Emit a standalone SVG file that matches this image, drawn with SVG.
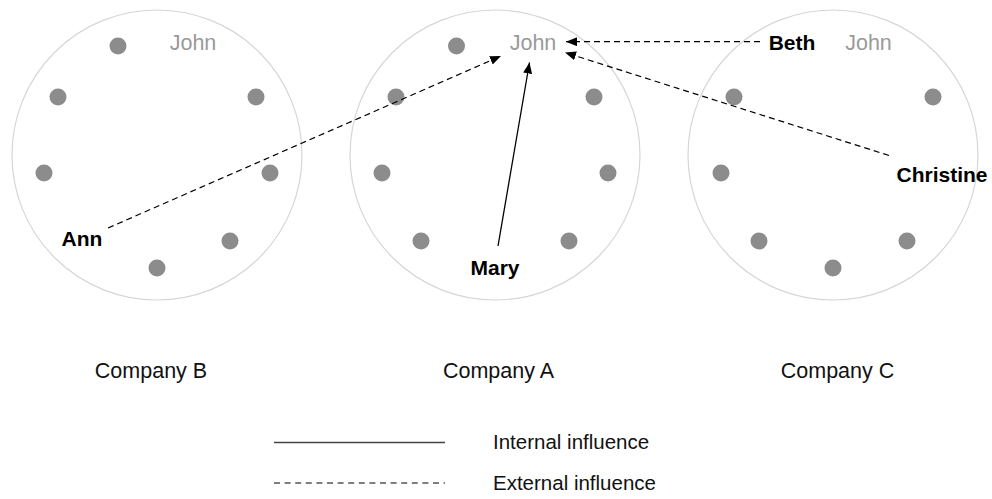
<svg xmlns="http://www.w3.org/2000/svg" width="992" height="499" viewBox="0 0 992 499">
<style>
.co{fill:none;stroke:#d6d6d6;stroke-width:1.2}
.dot{fill:#8c8c8c}
.john{font-family:"Liberation Sans",Arial,sans-serif;font-size:21.5px;fill:#9a9a9a;text-anchor:middle}
.name{font-family:"Liberation Sans",Arial,sans-serif;font-size:21px;font-weight:bold;fill:#000;text-anchor:middle}
.lbl{font-family:"Liberation Sans",Arial,sans-serif;font-size:21.5px;fill:#111;text-anchor:middle}
.leg{font-family:"Liberation Sans",Arial,sans-serif;font-size:20.5px;fill:#111}
.ext{fill:none;stroke:#000;stroke-width:1.2;stroke-dasharray:6,4}
.int{fill:none;stroke:#000;stroke-width:1.3}
</style>
<defs>
<marker id="ah" markerUnits="userSpaceOnUse" markerWidth="12" markerHeight="10" refX="11" refY="4.5" orient="auto">
<path d="M0,0 L11,4.5 L0,9 z" fill="#000"/>
</marker>
</defs>
<rect width="992" height="499" fill="#fff"/>
<g id="companyB">
<circle class="co" cx="157" cy="155" r="145"/>
<circle class="dot" cx="118" cy="46" r="8.5"/>
<circle class="dot" cx="58" cy="97" r="8.5"/>
<circle class="dot" cx="256" cy="97" r="8.5"/>
<circle class="dot" cx="44" cy="173" r="8.5"/>
<circle class="dot" cx="270" cy="173" r="8.5"/>
<circle class="dot" cx="230" cy="241" r="8.5"/>
<circle class="dot" cx="157" cy="268" r="8.5"/>
<g id="johnB"><text class="john" x="193" y="50">John</text></g>
<g id="ann"><text class="name" x="82" y="246">Ann</text></g>
<text class="lbl" x="151" y="378">Company B</text>
</g>
<g id="companyA">
<circle class="co" cx="495" cy="155" r="145"/>
<circle class="dot" cx="456.5" cy="46" r="8.5"/>
<circle class="dot" cx="396" cy="97" r="8.5"/>
<circle class="dot" cx="594" cy="97" r="8.5"/>
<circle class="dot" cx="382" cy="173" r="8.5"/>
<circle class="dot" cx="608" cy="173" r="8.5"/>
<circle class="dot" cx="421" cy="241" r="8.5"/>
<circle class="dot" cx="569" cy="241" r="8.5"/>
<g id="johnA"><text class="john" x="533" y="50">John</text></g>
<g id="mary"><text class="name" x="495" y="275">Mary</text></g>
<text class="lbl" x="498.5" y="378">Company A</text>
</g>
<g id="companyC">
<circle class="co" cx="833" cy="155" r="145"/>
<circle class="dot" cx="734" cy="97" r="8.5"/>
<circle class="dot" cx="933" cy="97" r="8.5"/>
<circle class="dot" cx="721" cy="173" r="8.5"/>
<circle class="dot" cx="759" cy="241" r="8.5"/>
<circle class="dot" cx="907" cy="241" r="8.5"/>
<circle class="dot" cx="833" cy="268" r="8.5"/>
<g id="johnC"><text class="john" x="868.5" y="50">John</text></g>
<g id="beth"><text class="name" x="792" y="50">Beth</text></g>
<g id="christine"><text class="name" x="942" y="182">Christine</text></g>
<text class="lbl" x="837.5" y="378">Company C</text>
</g>
<g id="connectors">
<line class="ext" x1="108" y1="228" x2="501" y2="56" marker-end="url(#ah)"/>
<line class="int" x1="498" y1="246" x2="529.5" y2="62.5" marker-end="url(#ah)"/>
<line class="ext" x1="760" y1="41.7" x2="566" y2="41.7" marker-end="url(#ah)"/>
<line class="ext" x1="889" y1="155.5" x2="565" y2="52.5" marker-end="url(#ah)"/>
</g>
<g id="legend">
<line x1="274" y1="442.5" x2="445" y2="442.5" stroke="#444" stroke-width="1.5"/>
<text class="leg" x="493" y="449">Internal influence</text>
<line x1="274" y1="483" x2="445" y2="483" stroke="#000" stroke-width="1.2" stroke-dasharray="6,4.6"/>
<text class="leg" x="493" y="490">External influence</text>
</g>
</svg>
